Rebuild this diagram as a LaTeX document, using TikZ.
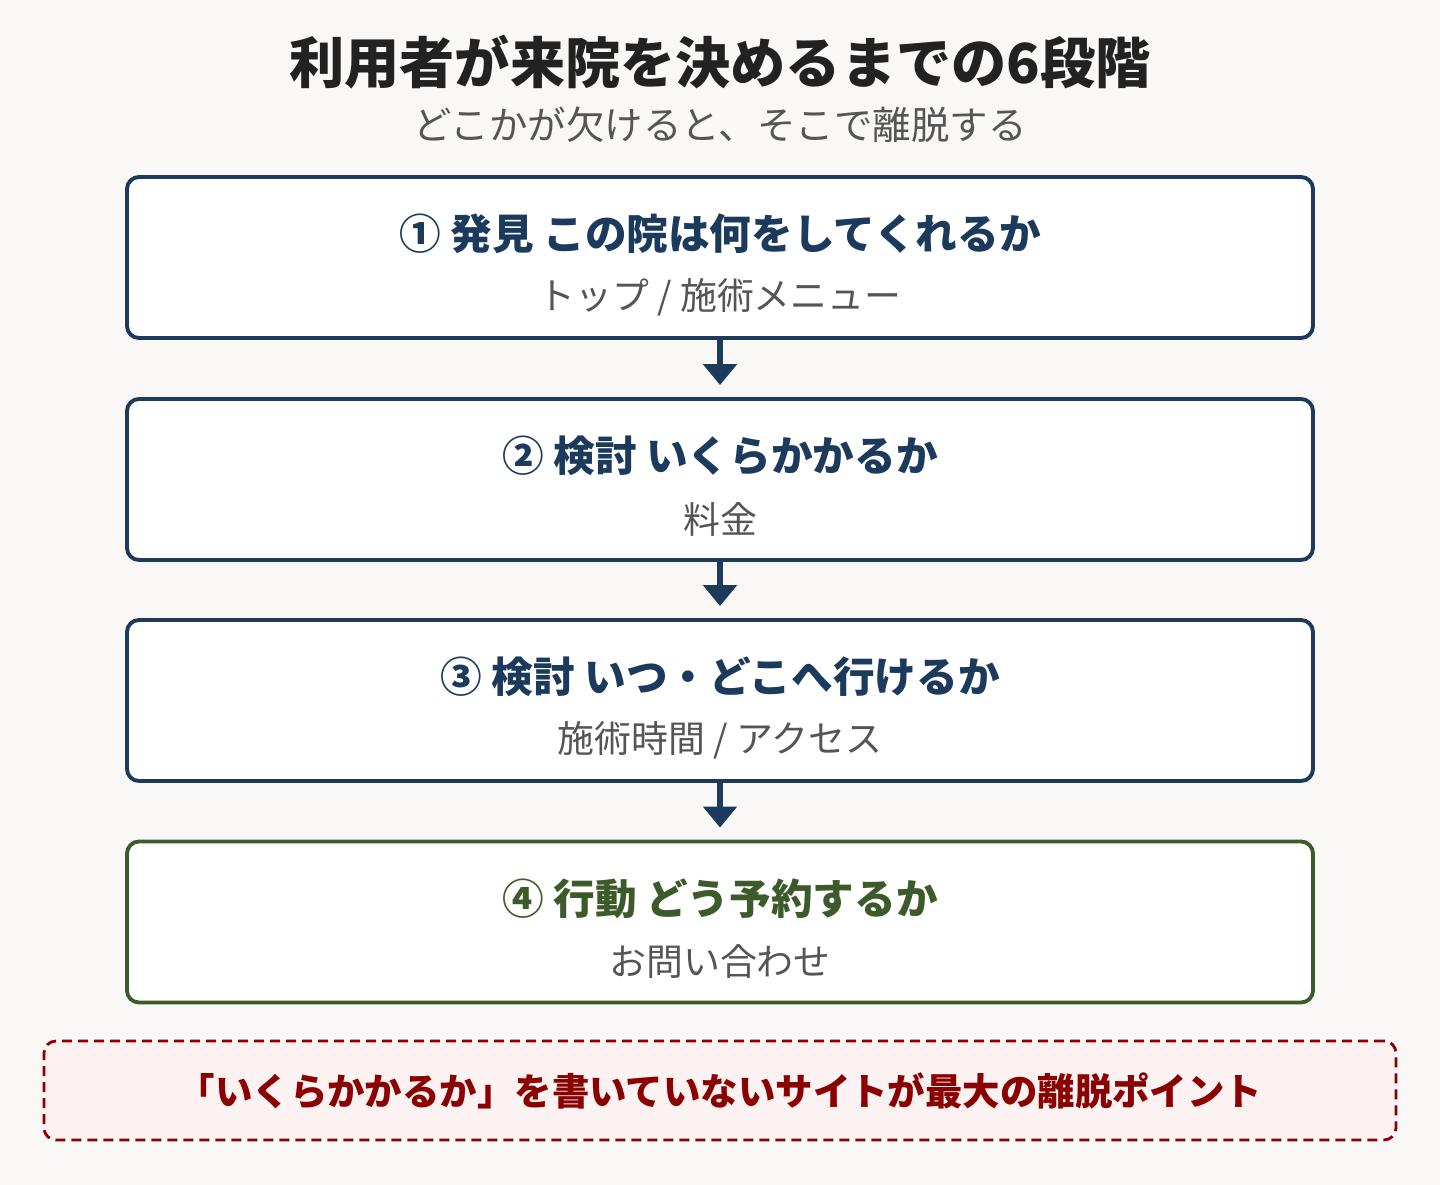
\documentclass[tikz,border=0pt]{standalone}
\usepackage{fontspec}
\usepackage{tikz}
\usetikzlibrary{arrows.meta}
\setmainfont{Noto Sans CJK JP}
\definecolor{bgpaper}{HTML}{F9F8F6}
\definecolor{navy}{HTML}{1C3A5C}
\definecolor{leaf}{HTML}{3D5A2B}
\definecolor{alert}{HTML}{8B0000}
\definecolor{alertfill}{HTML}{FDF2F2}
\definecolor{subgray}{HTML}{555555}
\definecolor{titlegray}{HTML}{222222}
\tikzset{
  stagebox/.style={draw=navy, line width=2.2pt, fill=white, rounded corners=0.24cm,
    minimum width=23.72cm, minimum height=3.22cm},
  heading/.style={font=\fontsize{23.7}{28}\selectfont\bfseries, text=navy},
  detail/.style={font=\fontsize{21}{25}\selectfont, text=subgray},
  flow/.style={draw=navy, line width=3pt, -{Triangle[width=0.66cm,length=0.42cm]}, shorten >=0.24cm}
}
\begin{document}
\begin{tikzpicture}
\fill[bgpaper] (0,0) rectangle (28.8,-23.7);
\useasboundingbox (0,0) rectangle (28.8,-23.7);

\node[font=\fontsize{31.4}{36}\selectfont\bfseries, text=titlegray] (title) at (14.4,-1.25) {利用者が来院を決めるまでの6段階};
\node[font=\fontsize{21.9}{25}\selectfont, text=subgray] (subtitle) at (14.4,-2.50) {どこかが欠けると、そこで離脱する};

% stages
\node[stagebox] (s1) at (14.4,-5.15) {};
\node[stagebox] (s2) at (14.4,-9.59) {};
\node[stagebox] (s3) at (14.4,-14.01) {};
\node[stagebox, draw=leaf] (s4) at (14.4,-18.44) {};

\node[heading] (h1) at ([yshift=0.47cm]s1.center) {① 発見 この院は何をしてくれるか};
\node[detail] (d1) at ([yshift=-0.79cm]s1.center) {トップ / 施術メニュー};
\node[heading] (h2) at ([yshift=0.47cm]s2.center) {② 検討 いくらかかるか};
\node[detail] (d2) at ([yshift=-0.79cm]s2.center) {料金};
\node[heading] (h3) at ([yshift=0.47cm]s3.center) {③ 検討 いつ・どこへ行けるか};
\node[detail] (d3) at ([yshift=-0.79cm]s3.center) {施術時間 / アクセス};
\node[heading, text=leaf] (h4) at ([yshift=0.47cm]s4.center) {④ 行動 どう予約するか};
\node[detail] (d4) at ([yshift=-0.79cm]s4.center) {お問い合わせ};

\draw[flow] (s1.south) -- (s2.north);
\draw[flow] (s2.south) -- (s3.north);
\draw[flow] (s3.south) -- (s4.north);

% callout
\node[draw=alert, fill=alertfill, line width=1.6pt, dash pattern=on 0.2cm off 0.12cm,
  rounded corners=0.24cm, minimum width=27.04cm, minimum height=1.98cm,
  font=\fontsize{21.3}{25}\selectfont\bfseries, text=alert] (note) at (14.4,-21.81)
  {「いくらかかるか」を書いていないサイトが最大の離脱ポイント};
\end{tikzpicture}
\end{document}
